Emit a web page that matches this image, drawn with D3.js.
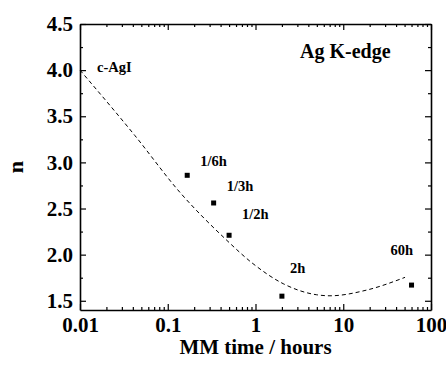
<!DOCTYPE html>
<html>
<head>
<meta charset="utf-8">
<script src="https://cdn.jsdelivr.net/npm/d3@7"></script>
<style>
  body { margin: 0; background: #fff; }
  text { font-family: "Liberation Serif", "Times New Roman", serif; font-weight: bold; }
</style>
</head>
<body>
<svg id="chart" width="446" height="367"></svg>
<script>
// measured points
var labels = ["1/6h", "1/3h", "1/2h", "2h", "60h"];
var times = [1/6, 1/3, 1/2, 2, 60];
var nVals = [2.86, 2.56, 2.21, 1.55, 1.67];

// dashed guide curve
var curveT = [0.01, 0.0423, 0.138, 0.449, 0.937, 2.07, 4.98, 7.06, 18.5, 50.6];
var curveN = [4.0, 3.29, 2.674, 2.174, 1.902, 1.685, 1.565, 1.554, 1.616, 1.754];

var xTicks = [0.01, 0.1, 1, 10, 100];
var yTicks = [1.5, 2.0, 2.5, 3.0, 3.5, 4.0, 4.5];

var svg = d3.select("#chart");
var pL = 80, pR = 431, pT = 24, pB = 310;

var x = d3.scaleLog().domain([0.01, 100]).range([pL, pR]);
var y = d3.scaleLinear().domain([1.4, 4.5]).range([pB, pT]);

// minor ticks
var xMinor = [];
[0.01, 0.1, 1, 10].forEach(function(d) {
    for (var k = 2; k <= 9; k++) xMinor.push(d * k);
});
var yMinor = d3.range(1.75, 4.5, 0.5);

// bottom axis
svg.append("g").attr("transform", "translate(0," + pB + ")")
    .call(d3.axisBottom(x).tickValues(xTicks).tickSizeInner(-6).tickSizeOuter(0).tickPadding(7).tickFormat(String))
    .call(function(g) { g.selectAll("text").attr("font-size", 21).attr("fill", "#000"); });
svg.append("g").attr("transform", "translate(0," + pB + ")")
    .call(d3.axisBottom(x).tickValues(xMinor).tickSize(-3).tickFormat(""))
    .call(function(g) { g.select(".domain").remove(); });

// top axis
svg.append("g").attr("transform", "translate(0," + pT + ")")
    .call(d3.axisTop(x).tickValues(xTicks).tickSizeInner(-6).tickSizeOuter(0).tickFormat(""));
svg.append("g").attr("transform", "translate(0," + pT + ")")
    .call(d3.axisTop(x).tickValues(xMinor).tickSize(-3).tickFormat(""))
    .call(function(g) { g.select(".domain").remove(); });

// left axis
svg.append("g").attr("transform", "translate(" + pL + ",0)")
    .call(d3.axisLeft(y).tickValues(yTicks).tickSizeInner(-6).tickSizeOuter(0).tickPadding(7).tickFormat(d3.format(".1f")))
    .call(function(g) { g.selectAll("text").attr("font-size", 21).attr("fill", "#000"); });
svg.append("g").attr("transform", "translate(" + pL + ",0)")
    .call(d3.axisLeft(y).tickValues(yMinor).tickSize(-3).tickFormat(""))
    .call(function(g) { g.select(".domain").remove(); });

// right axis
svg.append("g").attr("transform", "translate(" + pR + ",0)")
    .call(d3.axisRight(y).tickValues(yTicks).tickSizeInner(-6).tickSizeOuter(0).tickFormat(""));
svg.append("g").attr("transform", "translate(" + pR + ",0)")
    .call(d3.axisRight(y).tickValues(yMinor).tickSize(-3).tickFormat(""))
    .call(function(g) { g.select(".domain").remove(); });

svg.selectAll(".domain").attr("stroke", "#000").attr("stroke-width", 1.6);
svg.selectAll(".tick line").attr("stroke", "#000").attr("stroke-width", 1.2);

// dashed curve
var line = d3.line()
    .x(function(d, i) { return x(curveT[i]); })
    .y(function(d, i) { return y(curveN[i]); })
    .curve(d3.curveMonotoneX);
svg.append("path")
    .attr("d", line(curveT))
    .attr("fill", "none")
    .attr("stroke", "#000")
    .attr("stroke-width", 1)
    .attr("stroke-dasharray", "4,3");

// points
svg.selectAll("rect.pt").data(times).enter().append("rect")
    .attr("class", "pt")
    .attr("x", function(d) { return x(d) - 2.5; })
    .attr("y", function(d, i) { return y(nVals[i]) - 2.5; })
    .attr("width", 5).attr("height", 5)
    .attr("fill", "#000");

// point labels
var labelOff = [[13, -9], [13, -12], [13, -16], [8, -23], [-21, -30]];
svg.selectAll("text.lab").data(labels).enter().append("text")
    .attr("class", "lab")
    .attr("x", function(d, i) { return x(times[i]) + labelOff[i][0]; })
    .attr("y", function(d, i) { return y(nVals[i]) + labelOff[i][1]; })
    .attr("font-size", 14.5)
    .text(function(d) { return d; });

svg.append("text").attr("x", x(0.01) + 17).attr("y", y(4.0) + 2)
    .attr("font-size", 14.5).text("c-AgI");

svg.append("text").attr("x", 300).attr("y", 58)
    .attr("font-size", 20).text("Ag K-edge");

// axis titles
svg.append("text").attr("x", (pL + pR) / 2).attr("y", 354)
    .attr("text-anchor", "middle").attr("font-size", 21).text("MM time / hours");
svg.append("text").attr("transform", "translate(23,167) rotate(-90)")
    .attr("text-anchor", "middle").attr("font-size", 22).text("n");
</script>
</body>
</html>
